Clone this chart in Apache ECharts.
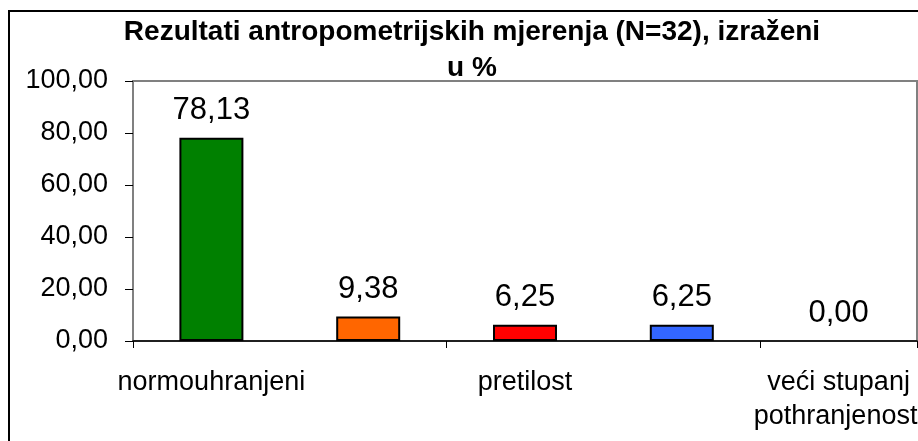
<!DOCTYPE html>
<html>
<head>
<meta charset="utf-8">
<script src="https://cdn.jsdelivr.net/npm/echarts@6/dist/echarts.min.js"></script>
<style>
  html, body { margin: 0; padding: 0; background: #fff; }
  #chart { width: 918px; height: 441px; }
</style>
</head>
<body>
<div id="chart"></div>
<script>
// data
var categories = ['normouhranjeni', 'prekomjerna težina', 'pretilost', 'pothranjenost', 'veći stupanj\npothranjenosti'];
var values = [78.13, 9.38, 6.25, 6.25, 0.00];
var barColors = ['#008000', '#FF6600', '#FF0000', '#3366FF', '#808080'];
var yTicks = [0, 20, 40, 60, 80, 100];

function fmt(v) {
  return Number(v).toFixed(2).replace('.', ',');
}

var chart = echarts.init(document.getElementById('chart'));

chart.setOption({
  animation: false,
  textStyle: { fontFamily: 'Liberation Sans, Arial, sans-serif' },
  title: {
    text: 'Rezultati antropometrijskih mjerenja (N=32), izraženi\nu %',
    left: 467,
    top: 9,
    textAlign: 'center',
    textStyle: {
      fontSize: 28,
      fontWeight: 'bold',
      color: '#000',
      lineHeight: 36
    }
  },
  graphic: [{
    type: 'rect',
    shape: { x: 9, y: 11, width: 950, height: 500 },
    style: { fill: 'none', stroke: '#000', lineWidth: 2 },
    silent: true,
    z: 100
  }],
  grid: {
    left: 133,
    top: 81,
    right: 1,
    bottom: 100,
    outerBoundsMode: 'none',
    containLabel: false,
    show: true,
    borderColor: '#808080',
    borderWidth: 2
  },
  xAxis: {
    type: 'category',
    data: categories,
    axisLine: { lineStyle: { color: '#000', width: 1.5 } },
    axisTick: { show: true, length: 7, lineStyle: { color: '#000' } },
    axisLabel: {
      interval: 1,
      color: '#000',
      fontSize: 27,
      lineHeight: 34,
      margin: 25,
      hideOverlap: false
    }
  },
  yAxis: {
    type: 'value',
    min: yTicks[0],
    max: yTicks[yTicks.length - 1],
    interval: 20,
    splitLine: { show: false },
    axisLine: { show: true, lineStyle: { color: '#808080', width: 1.5 } },
    axisTick: { show: true, length: 8, lineStyle: { color: '#000' } },
    axisLabel: {
      color: '#000',
      fontSize: 27,
      margin: 25,
      formatter: fmt
    }
  },
  series: [{
    type: 'bar',
    barWidth: 64,
    data: values.map(function (v, i) {
      return {
        value: v,
        itemStyle: { color: barColors[i], borderWidth: v === 0 ? 0 : 2 }
      };
    }),
    itemStyle: { borderColor: '#000', borderWidth: 2 },
    label: {
      show: true,
      position: 'top',
      distance: 12,
      color: '#000',
      fontSize: 31,
      formatter: function (p) { return fmt(p.value); }
    }
  }]
});
</script>
</body>
</html>
